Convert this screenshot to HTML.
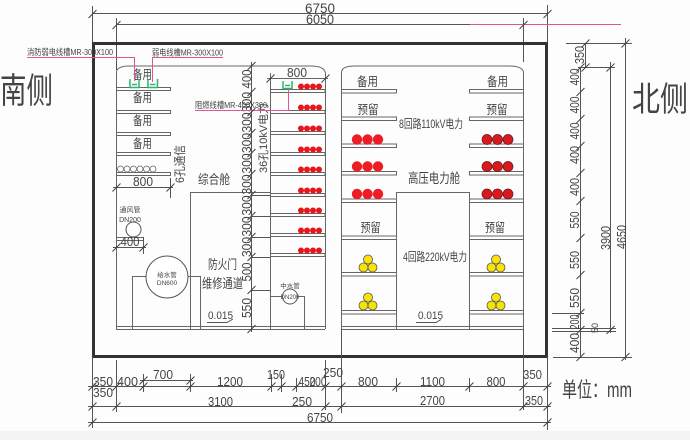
<!DOCTYPE html>
<html><head><meta charset="utf-8"><style>
html,body{margin:0;padding:0;background:#fff;}
svg{display:block}
text{font-family:"Liberation Sans","Noto Sans CJK SC",sans-serif;fill:#444;}
</style></head><body>
<svg width="690" height="440" viewBox="0 0 690 440" xmlns="http://www.w3.org/2000/svg">
<rect width="690" height="440" fill="#fdfdfd"/>
<rect x="0" y="431" width="690" height="9" fill="#f3f3f3"/>

<!-- top dimensions -->
<g stroke="#555" stroke-width="1" fill="none">
<line x1="92" y1="13.5" x2="547" y2="13.5"/>
<line x1="116" y1="24.5" x2="523" y2="24.5"/>
<line x1="92.5" y1="6" x2="92.5" y2="42"/>
<line x1="547.5" y1="5" x2="547.5" y2="42"/>
<line x1="116.5" y1="18" x2="116.5" y2="70"/>
<line x1="523.5" y1="18" x2="523.5" y2="62"/>
</g>
<line x1="470" y1="24.5" x2="621" y2="24.5" stroke="#e0559a" stroke-width="1"/>
<text x="320" y="13" font-size="14" text-anchor="middle" textLength="30" lengthAdjust="spacingAndGlyphs">6750</text>
<text x="320" y="24" font-size="14" text-anchor="middle" textLength="28" lengthAdjust="spacingAndGlyphs">6050</text>

<!-- outer thick frame -->
<rect x="93.5" y="43.5" width="453" height="313" fill="none" stroke="#333" stroke-width="3"/>

<!-- compartments outline -->
<g stroke="#666" stroke-width="1" fill="none">
<path d="M116.5,329 V72 Q117,66 130,66 H311 Q324,66 325.5,73 V329"/>
<path d="M341.5,329 V72 Q342,66 355,66 H509 Q522,66 523.5,72 V329"/>
<line x1="116" y1="326.5" x2="325" y2="326.5"/>
<line x1="116" y1="329.5" x2="325" y2="329.5"/>
<line x1="341" y1="326.5" x2="523" y2="326.5"/>
<line x1="341" y1="329.5" x2="523" y2="329.5"/>
</g>

<!-- left section shelves -->
<g stroke="#666" stroke-width="1" fill="#fff">
<rect x="116.5" y="87.5" width="54" height="3"/>
<rect x="116.5" y="110.5" width="54" height="3"/>
<rect x="116.5" y="132.5" width="54" height="3"/>
<rect x="116.5" y="152.5" width="54" height="3"/>
<rect x="116.5" y="172.5" width="54" height="3"/>
<rect x="116.5" y="237.5" width="27" height="3"/>
</g>
<g font-size="12.5" text-anchor="middle">
<text x="142.5" y="79" textLength="19" lengthAdjust="spacingAndGlyphs">备用</text>
<text x="142.5" y="102" textLength="19" lengthAdjust="spacingAndGlyphs">备用</text>
<text x="142.5" y="125" textLength="19" lengthAdjust="spacingAndGlyphs">备用</text>
<text x="142.5" y="148" textLength="19" lengthAdjust="spacingAndGlyphs">备用</text>
</g>
<g stroke="#666" fill="none" stroke-width="0.8">
<circle cx="120.5" cy="169" r="3"/><circle cx="127" cy="169" r="3"/><circle cx="133.5" cy="169" r="3"/>
<circle cx="140" cy="169" r="3"/><circle cx="146.5" cy="169" r="3"/><circle cx="153" cy="169" r="3"/>
</g>

<!-- left dims 800 / 400 -->
<g stroke="#555" stroke-width="1" fill="none">
<line x1="113" y1="187.5" x2="173" y2="187.5"/>
<line x1="170.5" y1="178" x2="170.5" y2="198"/>
<line x1="113" y1="247.5" x2="146" y2="247.5"/>
<line x1="143.5" y1="237" x2="143.5" y2="254"/>
</g>
<text x="143" y="186" font-size="13" text-anchor="middle" textLength="20" lengthAdjust="spacingAndGlyphs">800</text>
<text x="130" y="246" font-size="13" text-anchor="middle" textLength="19" lengthAdjust="spacingAndGlyphs">400</text>

<!-- 6孔通信 -->
<text transform="translate(184,164) rotate(-90)" font-size="12" text-anchor="middle" textLength="38" lengthAdjust="spacingAndGlyphs">6孔通信</text>

<!-- 通风管 -->
<text x="130" y="212" font-size="7" text-anchor="middle">通风管</text>
<text x="130" y="222" font-size="7" text-anchor="middle">DN200</text>
<circle cx="133.5" cy="229.5" r="7.5" fill="#fff" stroke="#555" stroke-width="1"/>

<!-- 给水管 -->
<path d="M132.5,329 V276.5 H200.5 V329" fill="none" stroke="#666" stroke-width="1"/>
<circle cx="167" cy="277" r="21" fill="#fff" stroke="#555" stroke-width="1"/>
<text x="167" y="277" font-size="6.5" text-anchor="middle">给水管</text>
<text x="167" y="285" font-size="6.5" text-anchor="middle">DN600</text>

<!-- passage -->
<path d="M190.5,329 V192.5 H270.5" fill="none" stroke="#666" stroke-width="1"/>
<text x="214" y="184" font-size="13" text-anchor="middle" textLength="32" lengthAdjust="spacingAndGlyphs">综合舱</text>
<text x="222.5" y="269" font-size="13" text-anchor="middle" textLength="29" lengthAdjust="spacingAndGlyphs">防火门</text>
<text x="222.5" y="288" font-size="13" text-anchor="middle" textLength="41" lengthAdjust="spacingAndGlyphs">维修通道</text>
<text x="220.5" y="319" font-size="11" text-anchor="middle" textLength="25" lengthAdjust="spacingAndGlyphs">0.015</text>
<path d="M207,322.5 H227 L233,319" fill="none" stroke="#555" stroke-width="1"/>

<!-- 36孔 column -->
<g stroke="#666" stroke-width="1" fill="none">
<line x1="270.5" y1="73" x2="270.5" y2="329"/>
<line x1="267" y1="78.5" x2="328" y2="78.5"/>
</g>
<text x="297" y="77" font-size="13" text-anchor="middle" textLength="20" lengthAdjust="spacingAndGlyphs">800</text>
<g stroke="#666" stroke-width="1" fill="#fff">
<rect x="270.5" y="89.5" width="54.5" height="3"/>
<rect x="270.5" y="110.5" width="54.5" height="3"/>
<rect x="270.5" y="131.5" width="54.5" height="3"/>
<rect x="270.5" y="152.5" width="54.5" height="3"/>
<rect x="270.5" y="172.5" width="54.5" height="3"/>
<rect x="270.5" y="193.5" width="54.5" height="3"/>
<rect x="270.5" y="213.5" width="54.5" height="3"/>
<rect x="270.5" y="233.5" width="54.5" height="3"/>
<rect x="270.5" y="253.5" width="54.5" height="3"/>
</g>
<g fill="#e8151b">
<circle cx="301" cy="86.5" r="3"/><circle cx="307" cy="86.5" r="3"/><circle cx="313" cy="86.5" r="3"/><circle cx="319" cy="86.5" r="3"/>
<circle cx="301" cy="107.5" r="3"/><circle cx="307" cy="107.5" r="3"/><circle cx="313" cy="107.5" r="3"/><circle cx="319" cy="107.5" r="3"/>
<circle cx="301" cy="128.5" r="3"/><circle cx="307" cy="128.5" r="3"/><circle cx="313" cy="128.5" r="3"/><circle cx="319" cy="128.5" r="3"/>
<circle cx="301" cy="149.5" r="3"/><circle cx="307" cy="149.5" r="3"/><circle cx="313" cy="149.5" r="3"/><circle cx="319" cy="149.5" r="3"/>
<circle cx="301" cy="169.5" r="3"/><circle cx="307" cy="169.5" r="3"/><circle cx="313" cy="169.5" r="3"/><circle cx="319" cy="169.5" r="3"/>
<circle cx="301" cy="190.5" r="3"/><circle cx="307" cy="190.5" r="3"/><circle cx="313" cy="190.5" r="3"/><circle cx="319" cy="190.5" r="3"/>
<circle cx="301" cy="210.5" r="3"/><circle cx="307" cy="210.5" r="3"/><circle cx="313" cy="210.5" r="3"/><circle cx="319" cy="210.5" r="3"/>
<circle cx="301" cy="230.5" r="3"/><circle cx="307" cy="230.5" r="3"/><circle cx="313" cy="230.5" r="3"/><circle cx="319" cy="230.5" r="3"/>
<circle cx="301" cy="250.5" r="3"/><circle cx="307" cy="250.5" r="3"/><circle cx="313" cy="250.5" r="3"/><circle cx="319" cy="250.5" r="3"/>
</g>
<text transform="translate(267,138) rotate(-90)" font-size="11" text-anchor="middle" textLength="70" lengthAdjust="spacingAndGlyphs">36孔10kV电力</text>

<!-- 中水管 -->
<path d="M270.5,296.5 H304.5 V329" fill="none" stroke="#666" stroke-width="1"/>
<circle cx="290" cy="296.5" r="7.5" fill="#fff" stroke="#555" stroke-width="1"/>
<text x="290" y="288" font-size="6.5" text-anchor="middle">中水管</text>
<text x="290" y="299" font-size="6" text-anchor="middle">DN200</text>

<!-- dimension column 综合舱 -->
<g stroke="#555" stroke-width="1" fill="none">
<line x1="251.5" y1="62" x2="251.5" y2="332"/>
<line x1="251" y1="195.5" x2="270" y2="195.5"/>
<line x1="251" y1="216.5" x2="270" y2="216.5"/>
<line x1="251" y1="237.5" x2="270" y2="237.5"/>
<line x1="251" y1="257.5" x2="270" y2="257.5"/>
<line x1="251" y1="290.5" x2="270" y2="290.5"/>
</g>
<g font-size="12.5" text-anchor="middle">
<text transform="translate(251,79) rotate(-90)" textLength="19" lengthAdjust="spacingAndGlyphs">400</text>
<text transform="translate(251,102) rotate(-90)" textLength="20" lengthAdjust="spacingAndGlyphs">300</text>
<text transform="translate(251,122.5) rotate(-90)" textLength="20" lengthAdjust="spacingAndGlyphs">300</text>
<text transform="translate(251,143) rotate(-90)" textLength="20" lengthAdjust="spacingAndGlyphs">300</text>
<text transform="translate(251,163.5) rotate(-90)" textLength="20" lengthAdjust="spacingAndGlyphs">300</text>
<text transform="translate(251,184.5) rotate(-90)" textLength="20" lengthAdjust="spacingAndGlyphs">300</text>
<text transform="translate(251,205.5) rotate(-90)" textLength="20" lengthAdjust="spacingAndGlyphs">300</text>
<text transform="translate(251,226.5) rotate(-90)" textLength="20" lengthAdjust="spacingAndGlyphs">300</text>
<text transform="translate(251,247) rotate(-90)" textLength="20" lengthAdjust="spacingAndGlyphs">300</text>
<text transform="translate(251,272) rotate(-90)" textLength="19" lengthAdjust="spacingAndGlyphs">500</text>
<text transform="translate(251,308) rotate(-90)" textLength="20" lengthAdjust="spacingAndGlyphs">550</text>
</g>

<!-- pink cable tray leaders -->
<g stroke="#e0559a" stroke-width="1" fill="none">
<path d="M27,57.5 H134.5 V81"/>
<path d="M223,57.5 H152.5 V82"/>
<path d="M195,110.5 H288.5 V89"/>
</g>
<g font-size="8.5">
<text x="27" y="55" textLength="86" lengthAdjust="spacingAndGlyphs">消防弱电线槽MR-300X100</text>
<text x="152" y="55.5" textLength="71" lengthAdjust="spacingAndGlyphs">弱电线槽MR-300X100</text>
<text x="195" y="108" textLength="72" lengthAdjust="spacingAndGlyphs">阻燃线槽MR-400X300</text>
</g>
<g stroke="#2fb36c" stroke-width="1.5" fill="none">
<path d="M130,79 V87.5 H139 V79"/><line x1="132" y1="84.5" x2="137" y2="84.5"/>
<path d="M148,79 V87.5 H157.5 V79"/><line x1="150" y1="84.5" x2="155.5" y2="84.5"/>
<path d="M283,81 V88.5 H292 V81"/><line x1="285" y1="85.5" x2="290" y2="85.5"/>
</g>

<!-- HV compartment -->
<path d="M396.5,329 V192.5 H469.5 V329" fill="none" stroke="#666" stroke-width="1"/>
<g stroke="#666" stroke-width="1" fill="#fff">
<rect x="341.5" y="89.5" width="55" height="3.5"/>
<rect x="341.5" y="117" width="55" height="3.5"/>
<rect x="341.5" y="144" width="55" height="3.5"/>
<rect x="341.5" y="171.5" width="55" height="3.5"/>
<rect x="341.5" y="199" width="55" height="3.5"/>
<rect x="341.5" y="236" width="55" height="3.5"/>
<rect x="341.5" y="272.5" width="55" height="3.5"/>
<rect x="341.5" y="310.5" width="55" height="3.5"/>
<rect x="469.5" y="89.5" width="54" height="3.5"/>
<rect x="469.5" y="117" width="54" height="3.5"/>
<rect x="469.5" y="144" width="54" height="3.5"/>
<rect x="469.5" y="171.5" width="54" height="3.5"/>
<rect x="469.5" y="199" width="54" height="3.5"/>
<rect x="469.5" y="236" width="54" height="3.5"/>
<rect x="469.5" y="272.5" width="54" height="3.5"/>
<rect x="469.5" y="310.5" width="54" height="3.5"/>
</g>
<g font-size="12.5" text-anchor="middle">
<text x="367.5" y="86" textLength="21" lengthAdjust="spacingAndGlyphs">备用</text>
<text x="497.5" y="86" textLength="21" lengthAdjust="spacingAndGlyphs">备用</text>
<text x="368" y="114" textLength="21" lengthAdjust="spacingAndGlyphs">预留</text>
<text x="497" y="114" textLength="21" lengthAdjust="spacingAndGlyphs">预留</text>
<text x="370.5" y="232" textLength="20" lengthAdjust="spacingAndGlyphs">预留</text>
<text x="495" y="232" textLength="20" lengthAdjust="spacingAndGlyphs">预留</text>
</g>
<text x="431" y="128" font-size="12" text-anchor="middle" textLength="64" lengthAdjust="spacingAndGlyphs">8回路110kV电力</text>
<text x="434" y="183" font-size="13.5" text-anchor="middle" textLength="52" lengthAdjust="spacingAndGlyphs">高压电力舱</text>
<text x="435" y="261" font-size="12" text-anchor="middle" textLength="64" lengthAdjust="spacingAndGlyphs">4回路220kV电力</text>
<text x="430.5" y="319" font-size="11" text-anchor="middle" textLength="25" lengthAdjust="spacingAndGlyphs">0.015</text>
<path d="M416,322.5 H436 L441,319.5" fill="none" stroke="#555" stroke-width="1"/>

<g fill="#ee1c24">
<circle cx="357" cy="139.5" r="5.2"/><circle cx="367.5" cy="139.5" r="5.2"/><circle cx="378" cy="139.5" r="5.2"/>
<circle cx="357" cy="166.5" r="5.2"/><circle cx="367.5" cy="166.5" r="5.2"/><circle cx="378" cy="166.5" r="5.2"/>
<circle cx="357" cy="194" r="5.2"/><circle cx="367.5" cy="194" r="5.2"/><circle cx="378" cy="194" r="5.2"/>
</g>
<g fill="#d81920" stroke="#6a1010" stroke-width="0.7">
<circle cx="487" cy="139.5" r="5"/><circle cx="497.5" cy="139.5" r="5"/><circle cx="508" cy="139.5" r="5"/>
<circle cx="487" cy="166.5" r="5"/><circle cx="497.5" cy="166.5" r="5"/><circle cx="508" cy="166.5" r="5"/>
<circle cx="487" cy="194" r="5"/><circle cx="497.5" cy="194" r="5"/><circle cx="508" cy="194" r="5"/>
</g>
<g fill="#f7e400" stroke="#555" stroke-width="0.8">
<circle cx="368" cy="259.5" r="4.5"/><circle cx="363.5" cy="267.5" r="4.5"/><circle cx="372.5" cy="267.5" r="4.5"/>
<circle cx="368" cy="297.5" r="4.5"/><circle cx="363.5" cy="305.5" r="4.5"/><circle cx="372.5" cy="305.5" r="4.5"/>
<circle cx="496" cy="259.5" r="4.5"/><circle cx="491.5" cy="267.5" r="4.5"/><circle cx="500.5" cy="267.5" r="4.5"/>
<circle cx="496" cy="297.5" r="4.5"/><circle cx="491.5" cy="305.5" r="4.5"/><circle cx="500.5" cy="305.5" r="4.5"/>
</g>

<!-- right dimensions -->
<g stroke="#555" stroke-width="1" fill="none">
<line x1="566" y1="43.5" x2="632" y2="43.5"/>
<line x1="578" y1="67.5" x2="615" y2="67.5"/>
<line x1="585.5" y1="43" x2="585.5" y2="68"/>
<line x1="580.5" y1="67" x2="580.5" y2="358"/>
<line x1="610.5" y1="62" x2="610.5" y2="333"/>
<line x1="625.5" y1="38" x2="625.5" y2="360"/>
<line x1="552" y1="313.5" x2="584" y2="313.5"/>
<line x1="552" y1="328.5" x2="616" y2="328.5"/>
<line x1="552" y1="331.5" x2="616" y2="331.5"/>
<line x1="553" y1="357.5" x2="632" y2="357.5"/>
</g>
<g font-size="12.5" text-anchor="middle">
<text transform="translate(584,55) rotate(-90)" textLength="18" lengthAdjust="spacingAndGlyphs">350</text>
<text transform="translate(579,77) rotate(-90)" textLength="17" lengthAdjust="spacingAndGlyphs">400</text>
<text transform="translate(579,105) rotate(-90)" textLength="17" lengthAdjust="spacingAndGlyphs">400</text>
<text transform="translate(579,131) rotate(-90)" textLength="17" lengthAdjust="spacingAndGlyphs">400</text>
<text transform="translate(579,155) rotate(-90)" textLength="18" lengthAdjust="spacingAndGlyphs">400</text>
<text transform="translate(579,187) rotate(-90)" textLength="18" lengthAdjust="spacingAndGlyphs">400</text>
<text transform="translate(579,220) rotate(-90)" textLength="17" lengthAdjust="spacingAndGlyphs">550</text>
<text transform="translate(579,260) rotate(-90)" textLength="18" lengthAdjust="spacingAndGlyphs">550</text>
<text transform="translate(579,298) rotate(-90)" textLength="20" lengthAdjust="spacingAndGlyphs">550</text>
<text transform="translate(579,322) rotate(-90)" textLength="15" lengthAdjust="spacingAndGlyphs">200</text>
<text transform="translate(579,343) rotate(-90)" textLength="20" lengthAdjust="spacingAndGlyphs">400</text>
<text transform="translate(610,238) rotate(-90)" textLength="24" lengthAdjust="spacingAndGlyphs">3900</text>
<text transform="translate(626,237) rotate(-90)" textLength="24" lengthAdjust="spacingAndGlyphs">4650</text>
</g>
<text transform="translate(598,328) rotate(-90)" font-size="9" text-anchor="middle">50</text>

<!-- bottom dimensions -->
<g stroke="#555" stroke-width="1" fill="none">
<line x1="88" y1="386.5" x2="551" y2="386.5"/>
<line x1="140" y1="380.5" x2="193" y2="380.5"/>
<line x1="88" y1="406.5" x2="551" y2="406.5"/>
<line x1="88" y1="422.5" x2="551" y2="422.5"/>
<line x1="92.5" y1="357" x2="92.5" y2="428"/>
<line x1="116.5" y1="360" x2="116.5" y2="412"/>
<line x1="143.5" y1="374" x2="143.5" y2="392"/>
<line x1="190.5" y1="374" x2="190.5" y2="392"/>
<line x1="271.5" y1="374" x2="271.5" y2="392"/>
<line x1="281.5" y1="374" x2="281.5" y2="392"/>
<line x1="296.5" y1="378" x2="296.5" y2="392"/>
<line x1="325.5" y1="360" x2="325.5" y2="410"/>
<line x1="341.5" y1="329" x2="341.5" y2="413"/>
<line x1="396.5" y1="378" x2="396.5" y2="392"/>
<line x1="469.5" y1="378" x2="469.5" y2="392"/>
<line x1="523.5" y1="329" x2="523.5" y2="410"/>
<line x1="547.5" y1="357" x2="547.5" y2="430"/>
</g>
<g font-size="13" text-anchor="middle">
<text x="103" y="386" textLength="20" lengthAdjust="spacingAndGlyphs">350</text>
<text x="127.5" y="386" textLength="21" lengthAdjust="spacingAndGlyphs">400</text>
<text x="163" y="379" textLength="20" lengthAdjust="spacingAndGlyphs">700</text>
<text x="230" y="386" textLength="26" lengthAdjust="spacingAndGlyphs">1200</text>
<text x="276" y="379" textLength="18" lengthAdjust="spacingAndGlyphs">150</text>
<text x="307" y="386" textLength="17" lengthAdjust="spacingAndGlyphs">450</text>
<text x="318" y="386" textLength="17" lengthAdjust="spacingAndGlyphs">200</text>
<text x="333" y="377" textLength="20" lengthAdjust="spacingAndGlyphs">250</text>
<text x="368" y="386" textLength="20" lengthAdjust="spacingAndGlyphs">800</text>
<text x="432.5" y="386" textLength="25" lengthAdjust="spacingAndGlyphs">1100</text>
<text x="496" y="386" textLength="19" lengthAdjust="spacingAndGlyphs">800</text>
<text x="532.5" y="379" textLength="19" lengthAdjust="spacingAndGlyphs">350</text>
<text x="103" y="397" textLength="20" lengthAdjust="spacingAndGlyphs">350</text>
<text x="220.5" y="406" textLength="25" lengthAdjust="spacingAndGlyphs">3100</text>
<text x="302" y="406" textLength="20" lengthAdjust="spacingAndGlyphs">250</text>
<text x="432.5" y="405" textLength="25" lengthAdjust="spacingAndGlyphs">2700</text>
<text x="534" y="405" textLength="18" lengthAdjust="spacingAndGlyphs">350</text>
<text x="320" y="422" textLength="26" lengthAdjust="spacingAndGlyphs">6750</text>
</g>

<!-- ticks -->
<path stroke="#444" stroke-width="1" fill="none" d="
M88.5,18 l8,-8 M543.5,18 l8,-8 M112.5,29 l8,-8 M519.5,29 l8,-8
M112.5,191.5 l8,-8 M166.5,191.5 l8,-8 M112.5,251.5 l8,-8 M139.5,251.5 l8,-8
M266.5,82.5 l8,-8 M321.5,82.5 l8,-8
M247.5,70 l8,-8 M247.5,96 l8,-8 M247.5,116 l8,-8 M247.5,137 l8,-8 M247.5,157 l8,-8 M247.5,178 l8,-8 M247.5,199 l8,-8 M247.5,220 l8,-8 M247.5,241 l8,-8 M247.5,261 l8,-8 M247.5,294 l8,-8 M247.5,333 l8,-8
M581.5,47.5 l8,-8 M581.5,71.5 l8,-8
M576.5,71.5 l8,-8 M576.5,96 l8,-8 M576.5,123 l8,-8 M576.5,150 l8,-8 M576.5,177 l8,-8 M576.5,205 l8,-8 M576.5,242 l8,-8 M576.5,279 l8,-8 M576.5,317 l8,-8 M576.5,334 l8,-8 M576.5,361 l8,-8
M606.5,71.5 l8,-8 M606.5,334 l8,-8 M621.5,47.5 l8,-8 M621.5,361 l8,-8
M88.5,390.5 l8,-8 M112.5,390.5 l8,-8 M139.5,390.5 l8,-8 M186.5,390.5 l8,-8 M267.5,390.5 l8,-8 M277.5,390.5 l8,-8 M292.5,390.5 l8,-8 M321.5,390.5 l8,-8 M337.5,390.5 l8,-8 M392.5,390.5 l8,-8 M465.5,390.5 l8,-8 M519.5,390.5 l8,-8 M543.5,390.5 l8,-8
M139.5,384.5 l8,-8 M186.5,384.5 l8,-8
M88.5,410.5 l8,-8 M112.5,410.5 l8,-8 M321.5,410.5 l8,-8 M337.5,410.5 l8,-8 M519.5,410.5 l8,-8 M543.5,410.5 l8,-8
M88.5,426.5 l8,-8 M543.5,426.5 l8,-8
"/>

<!-- side labels -->
<text x="0" y="103" font-size="35" textLength="53" lengthAdjust="spacingAndGlyphs" fill="#333">南侧</text>
<text x="632" y="111" font-size="34" textLength="56" lengthAdjust="spacingAndGlyphs" fill="#333">北侧</text>
<text x="562" y="397" font-size="21" textLength="70" lengthAdjust="spacingAndGlyphs" fill="#333">单位：mm</text>
</svg>
</body></html>
